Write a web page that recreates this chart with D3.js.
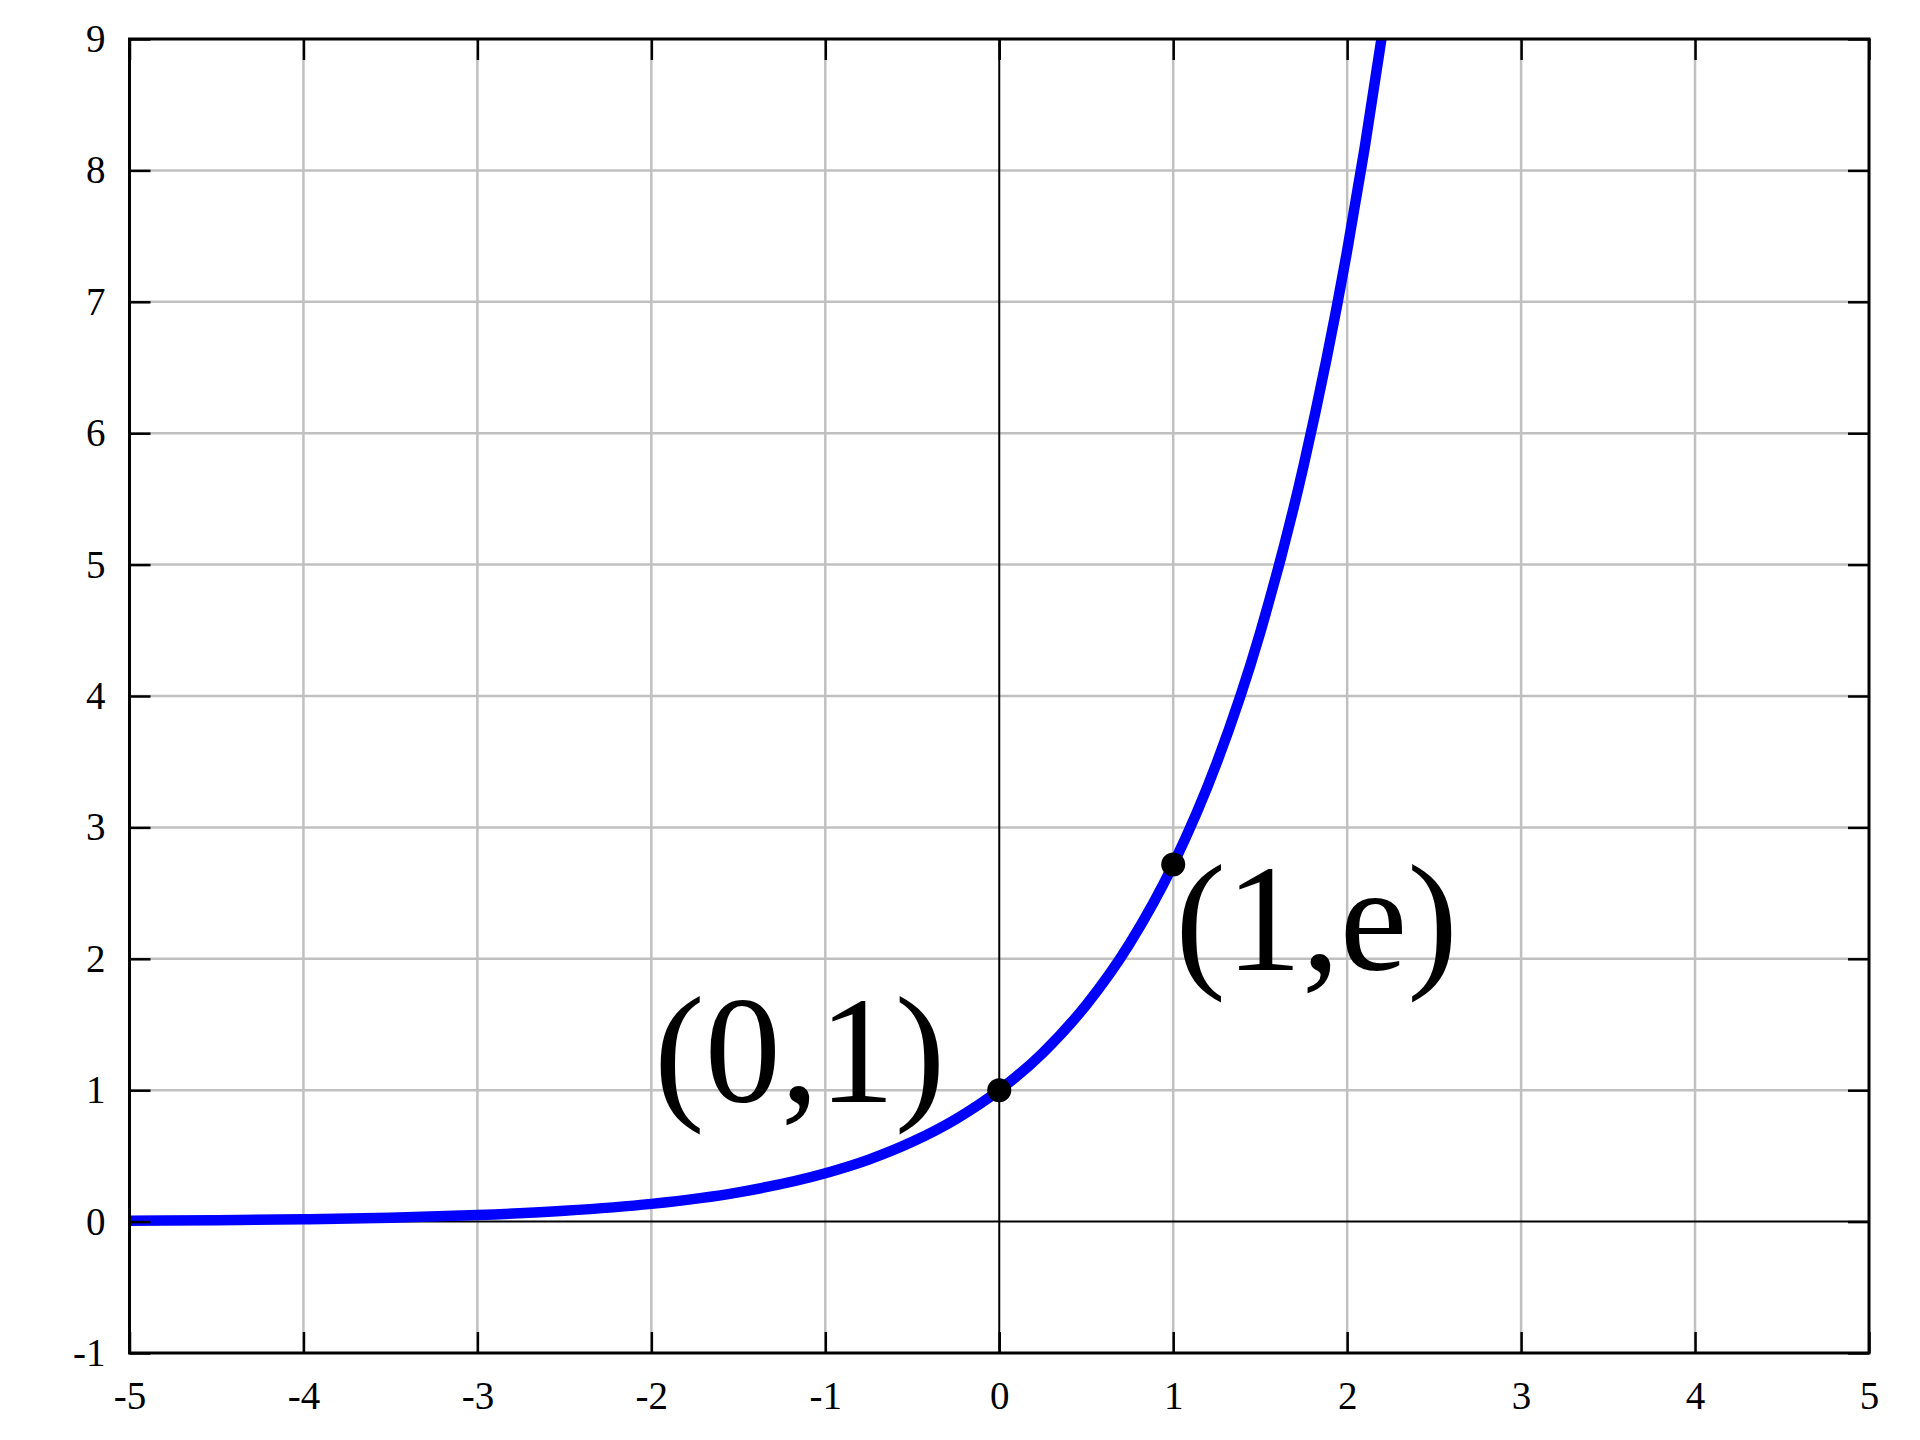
<!DOCTYPE html>
<html>
<head>
<meta charset="utf-8">
<script src="https://cdn.jsdelivr.net/npm/d3@7"></script>
<style>
  html, body { margin: 0; padding: 0; background: #fff; }
  svg { display: block; }
</style>
</head>
<body>
<div id="chart"></div>
<script>
// curve points (y = e^x)
const curveX = [-5, -4.5, -4, -3.5, -3, -2.5, -2, -1.5, -1, -0.75, -0.5, -0.25, 0, 0.25, 0.5, 0.75, 1, 1.25, 1.5, 1.75, 2, 2.1, 2.197];
const curveY = [0.007, 0.011, 0.018, 0.030, 0.050, 0.082, 0.135, 0.223, 0.368, 0.472, 0.607, 0.779, 1, 1.284, 1.649, 2.117, 2.718, 3.490, 4.482, 5.755, 7.389, 8.166, 9.0];

// marked points and their labels
const markX = [0, 1];
const markY = [1, 2.718];
const markLabels = ["(0,1)", "(1,e)"];

const xTicks = [-5, -4, -3, -2, -1, 0, 1, 2, 3, 4, 5];
const yTicks = [-1, 0, 1, 2, 3, 4, 5, 6, 7, 8, 9];

const width = 1920, height = 1440;
const margin = {top: 39, right: 51, bottom: 87, left: 129.5};
const font = "'Liberation Serif', 'Times New Roman', serif";

let svg = d3.select("#chart").append("svg")
  .attr("width", width)
  .attr("height", height);

let x = d3.scaleLinear().domain([-5, 5]).range([margin.left, width - margin.right]);
let y = d3.scaleLinear().domain([-1, 9]).range([height - margin.bottom, margin.top]);

svg.append("clipPath").attr("id", "plot-clip")
  .append("rect")
  .attr("x", x(-5)).attr("y", y(9))
  .attr("width", x(5) - x(-5)).attr("height", y(-1) - y(9));

// grid
let grid = svg.append("g");
grid.selectAll("line.gx")
  .data(xTicks.filter(d => d !== -5 && d !== 5 && d !== 0))
  .enter().append("line")
  .attr("x1", d => x(d)).attr("x2", d => x(d))
  .attr("y1", y(-1)).attr("y2", y(9))
  .attr("stroke", "#c0c0c0").attr("stroke-width", 2.5);
grid.selectAll("line.gy")
  .data(yTicks.filter(d => d !== -1 && d !== 9 && d !== 0))
  .enter().append("line")
  .attr("y1", d => y(d)).attr("y2", d => y(d))
  .attr("x1", x(-5)).attr("x2", x(5))
  .attr("stroke", "#c0c0c0").attr("stroke-width", 2.5);

// zero axes
svg.append("line")
  .attr("x1", x(0)).attr("x2", x(0)).attr("y1", y(-1)).attr("y2", y(9))
  .attr("stroke", "#000").attr("stroke-width", 2);
svg.append("line")
  .attr("x1", x(-5)).attr("x2", x(5)).attr("y1", y(0)).attr("y2", y(0))
  .attr("stroke", "#000").attr("stroke-width", 2);

// the curve
let line = d3.line()
  .x((d, i) => x(curveX[i]))
  .y(d => y(d))
  .curve(d3.curveMonotoneX);

svg.append("path")
  .datum(curveY)
  .attr("clip-path", "url(#plot-clip)")
  .attr("d", line)
  .attr("fill", "none")
  .attr("stroke", "#0000ff")
  .attr("stroke-width", 10.5);

// axes: ticks point inward on all four sides
let fmt = d => String(d);

let axisB = svg.append("g")
  .attr("transform", "translate(0," + y(-1) + ")")
  .call(d3.axisBottom(x).tickValues(xTicks).tickSizeInner(-21).tickSizeOuter(0).tickPadding(28).tickFormat(fmt));
let axisL = svg.append("g")
  .attr("transform", "translate(" + x(-5) + ",0)")
  .call(d3.axisLeft(y).tickValues(yTicks).tickSizeInner(-21).tickSizeOuter(0).tickPadding(24).tickFormat(fmt));
let axisT = svg.append("g")
  .attr("transform", "translate(0," + y(9) + ")")
  .call(d3.axisTop(x).tickValues(xTicks).tickSizeInner(-21).tickSizeOuter(0).tickFormat(""));
let axisR = svg.append("g")
  .attr("transform", "translate(" + x(5) + ",0)")
  .call(d3.axisRight(y).tickValues(yTicks).tickSizeInner(-21).tickSizeOuter(0).tickFormat(""));

[axisB, axisL, axisT, axisR].forEach(function(g) {
  g.select(".domain").remove();
  g.selectAll(".tick line").attr("stroke", "#000").attr("stroke-width", 2.5);
  g.selectAll(".tick text")
    .attr("fill", "#000")
    .style("font-family", font)
    .style("font-size", "39px");
});

// frame
svg.append("rect")
  .attr("x", x(-5)).attr("y", y(9))
  .attr("width", x(5) - x(-5)).attr("height", y(-1) - y(9))
  .attr("fill", "none")
  .attr("stroke", "#000")
  .attr("stroke-width", 3);

// marked points
svg.selectAll("circle.mark")
  .data(markX)
  .enter().append("circle")
  .attr("cx", d => x(d))
  .attr("cy", (d, i) => y(markY[i]))
  .attr("r", 12)
  .attr("fill", "#000");

// labels next to the points
svg.append("text")
  .attr("x", x(markX[0]) - 54)
  .attr("y", y(markY[0]) + 12)
  .attr("text-anchor", "end")
  .style("font-family", font)
  .style("font-size", "152px")
  .text(markLabels[0]);

svg.append("text")
  .attr("x", x(markX[1]) + 2)
  .attr("y", y(markY[1]) + 106)
  .attr("text-anchor", "start")
  .style("font-family", font)
  .style("font-size", "152px")
  .text(markLabels[1]);
</script>
</body>
</html>
